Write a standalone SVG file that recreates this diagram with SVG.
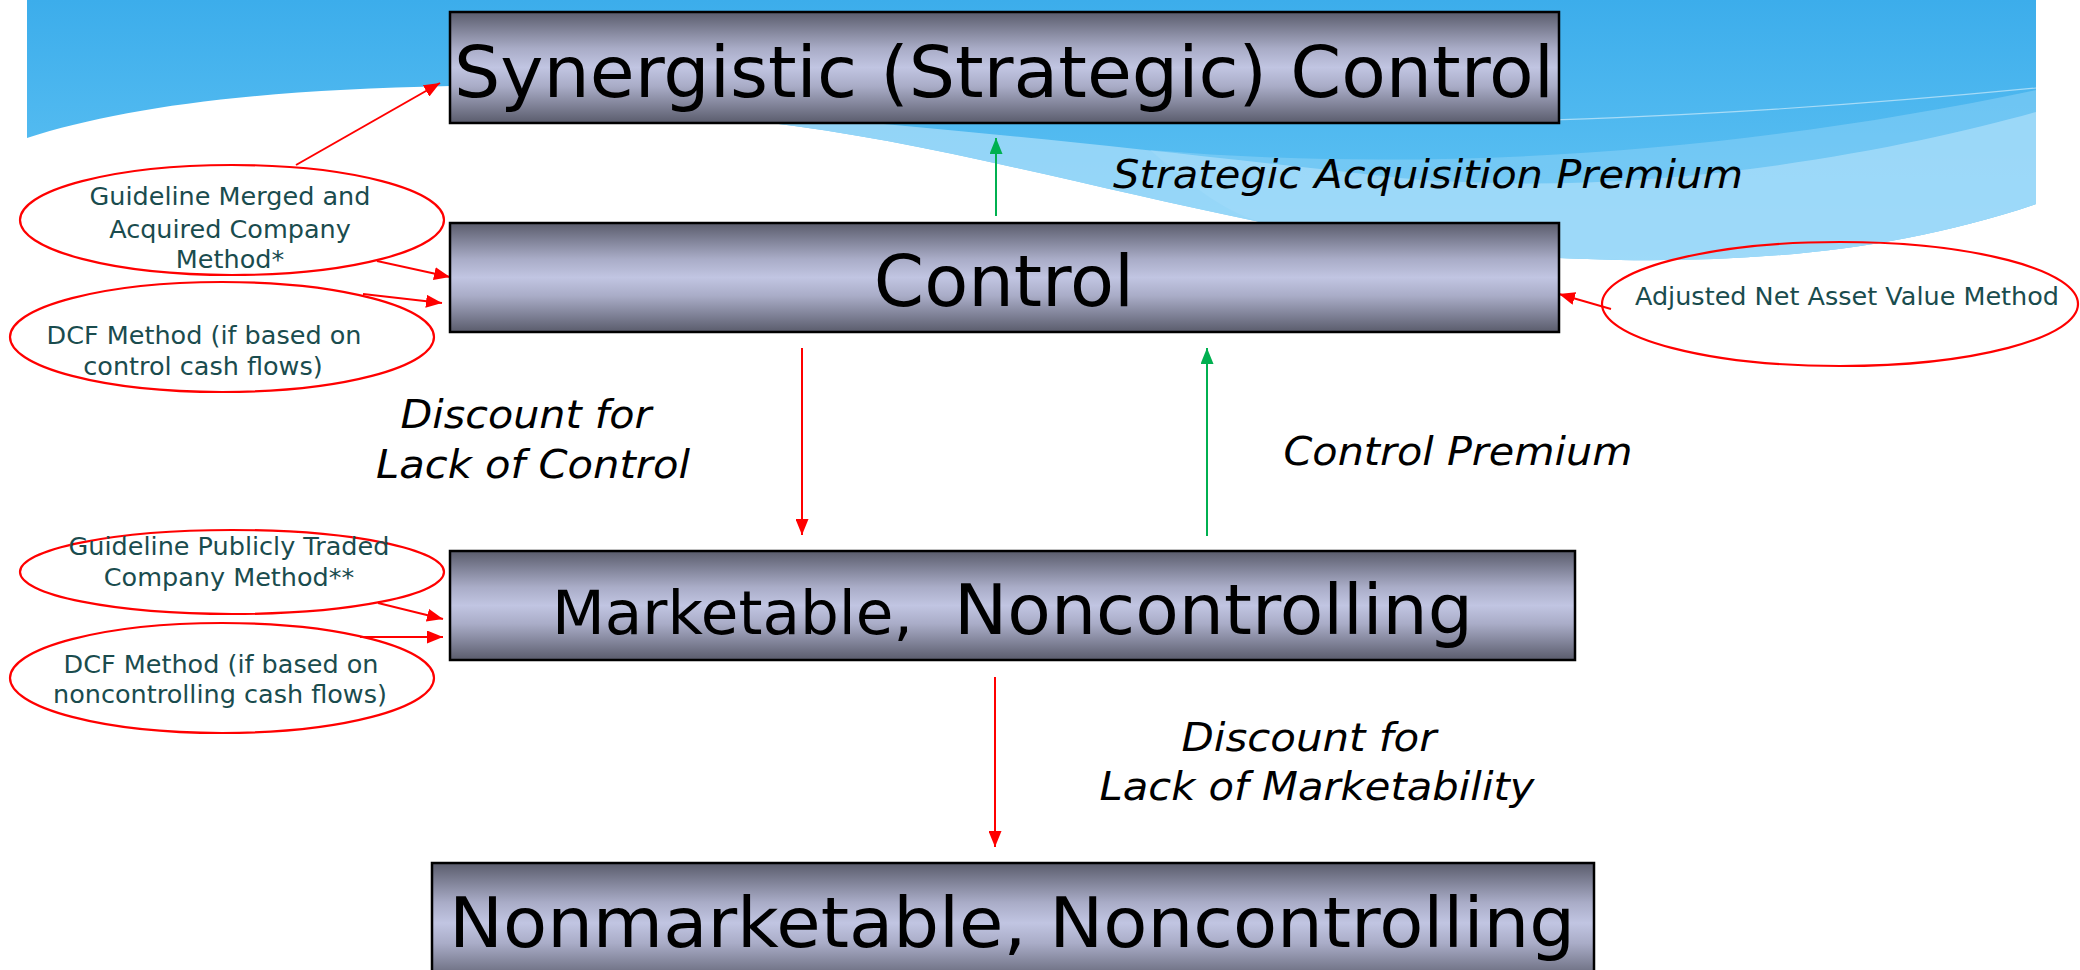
<svg xmlns="http://www.w3.org/2000/svg" width="2080" height="970" viewBox="0 0 2080 970">
<style>
.box{fill:url(#boxGrad);stroke:#000;stroke-width:2.5}
.bt{font-family:"DejaVu Sans",Verdana,sans-serif;fill:#000;text-anchor:middle}
.lbl{font-family:"DejaVu Sans",Verdana,sans-serif;font-style:italic;fill:#000;font-size:39px;text-anchor:middle}
.ell{fill:none;stroke:#ff0000;stroke-width:2.2}
.et{font-family:"DejaVu Sans",Verdana,sans-serif;fill:#1a4c4e;font-size:25.5px;text-anchor:middle}
.red{stroke:#ff0000;stroke-width:2;fill:none;marker-end:url(#arRed)}
.green{stroke:#00b050;stroke-width:2;fill:none;marker-end:url(#arGreen)}
</style>
<defs>
<linearGradient id="boxGrad" x1="0" y1="0" x2="0" y2="1">
<stop offset="0" stop-color="#5a5c6c"/>
<stop offset="0.33" stop-color="#a9acc7"/>
<stop offset="0.5" stop-color="#c1c5e2"/>
<stop offset="0.67" stop-color="#a9acc7"/>
<stop offset="1" stop-color="#5a5c6c"/>
</linearGradient>
<linearGradient id="skyGrad" x1="0" y1="0" x2="0" y2="1">
<stop offset="0" stop-color="#3cadeb"/>
<stop offset="1" stop-color="#66c6f5"/>
</linearGradient>
<marker id="arRed" markerWidth="16" markerHeight="13" refX="16" refY="6.5" orient="auto" markerUnits="userSpaceOnUse">
<path d="M0,0 L16,6.5 L0,13 Z" fill="#ff0000"/>
</marker>
<marker id="arGreen" markerWidth="16" markerHeight="13" refX="16" refY="6.5" orient="auto" markerUnits="userSpaceOnUse">
<path d="M0,0 L16,6.5 L0,13 Z" fill="#00b050"/>
</marker>
</defs>

<g id="background">
<rect width="2080" height="970" fill="#ffffff"/>
<path d="M27,0 H2036 V204 C1900,250 1760,262 1620,260 C1480,258 1360,240 1260,222 C1080,185 920,140 763,122 C660,100 560,84 450,86 C250,90 120,108 27,138 Z" fill="url(#skyGrad)"/>
<path d="M1150,150 C1450,175 1750,150 2036,90 V204 C1900,250 1760,262 1620,260 C1480,258 1360,240 1260,222 C1220,210 1185,180 1150,150 Z" fill="#8fd3f8" opacity="0.5"/>
<path d="M740,112 C950,128 1150,150 1400,178 C1650,200 1900,150 2036,112 V204 C1900,250 1760,262 1620,260 C1480,258 1360,240 1260,222 C1080,185 920,140 763,122 Z" fill="#a9defa" opacity="0.75"/>
<path d="M1000,105 C1300,130 1600,130 2036,88" fill="none" stroke="#ffffff" stroke-width="1.2" opacity="0.5"/>
</g>

<g id="connectors">
<line class="green" x1="996" y1="216" x2="996" y2="138"/>
<line class="red" x1="802" y1="348" x2="802" y2="535"/>
<line class="green" x1="1207" y1="536" x2="1207" y2="348"/>
<line class="red" x1="995" y1="677" x2="995" y2="847"/>
<line class="red" x1="296" y1="165" x2="440" y2="83"/>
<line class="red" x1="377" y1="261" x2="450" y2="277"/>
<line class="red" x1="363" y1="294" x2="442" y2="303"/>
<line class="red" x1="1611" y1="309" x2="1559" y2="294"/>
<line class="red" x1="378" y1="603" x2="443" y2="619"/>
<line class="red" x1="360" y1="637" x2="443" y2="637"/>
</g>

<g id="node-synergistic">
<rect class="box" x="450" y="12" width="1109" height="111"/>
<text class="bt" x="1004" y="97" font-size="72" textLength="1100" lengthAdjust="spacingAndGlyphs">Synergistic (Strategic) Control</text>
</g>

<g id="node-control">
<rect class="box" x="450" y="223" width="1109" height="109"/>
<text class="bt" x="1004" y="306" font-size="72">Control</text>
</g>

<g id="node-marketable">
<rect class="box" x="450" y="551" width="1125" height="109"/>
<text x="552" y="634" font-family="DejaVu Sans, Verdana, sans-serif" fill="#000"><tspan font-size="60" textLength="361" lengthAdjust="spacingAndGlyphs">Marketable,</tspan><tspan x="954" font-size="70" textLength="519" lengthAdjust="spacingAndGlyphs">Noncontrolling</tspan></text>
</g>

<g id="node-nonmarketable">
<rect class="box" x="432" y="863" width="1162" height="120"/>
<text class="bt" x="1012" y="947" font-size="70" textLength="1126" lengthAdjust="spacingAndGlyphs">Nonmarketable, Noncontrolling</text>
</g>

<g id="label-strategic">
<text class="lbl" x="1428" y="188" textLength="630" lengthAdjust="spacingAndGlyphs">Strategic Acquisition Premium</text>
</g>
<g id="label-dloc">
<text class="lbl" x="526" y="428" textLength="251" lengthAdjust="spacingAndGlyphs">Discount for</text>
<text class="lbl" x="533" y="478" textLength="314" lengthAdjust="spacingAndGlyphs">Lack of Control</text>
</g>
<g id="label-control-premium">
<text class="lbl" x="1458" y="465" textLength="349" lengthAdjust="spacingAndGlyphs">Control Premium</text>
</g>
<g id="label-dlom">
<text class="lbl" x="1309" y="751" textLength="255" lengthAdjust="spacingAndGlyphs">Discount for</text>
<text class="lbl" x="1317" y="800" textLength="435" lengthAdjust="spacingAndGlyphs">Lack of Marketability</text>
</g>

<g id="method-merged">
<ellipse class="ell" cx="232" cy="220" rx="212" ry="55"/>
<text class="et" x="230" y="205">Guideline Merged and</text>
<text class="et" x="230" y="238">Acquired Company</text>
<text class="et" x="230" y="268">Method*</text>
</g>
<g id="method-dcf-control">
<ellipse class="ell" cx="222" cy="337" rx="212" ry="55"/>
<text class="et" x="204" y="344">DCF Method (if based on</text>
<text class="et" x="203" y="375">control cash flows)</text>
</g>
<g id="method-adjusted">
<ellipse class="ell" cx="1840" cy="304" rx="238" ry="62"/>
<text class="et" x="1847" y="305">Adjusted Net Asset Value Method</text>
</g>
<g id="method-publicly">
<ellipse class="ell" cx="232" cy="572" rx="212" ry="42"/>
<text class="et" x="229" y="555">Guideline Publicly Traded</text>
<text class="et" x="229" y="586">Company Method**</text>
</g>
<g id="method-dcf-noncontrol">
<ellipse class="ell" cx="222" cy="678" rx="212" ry="55"/>
<text class="et" x="221" y="673">DCF Method (if based on</text>
<text class="et" x="220" y="703">noncontrolling cash flows)</text>
</g>
</svg>
